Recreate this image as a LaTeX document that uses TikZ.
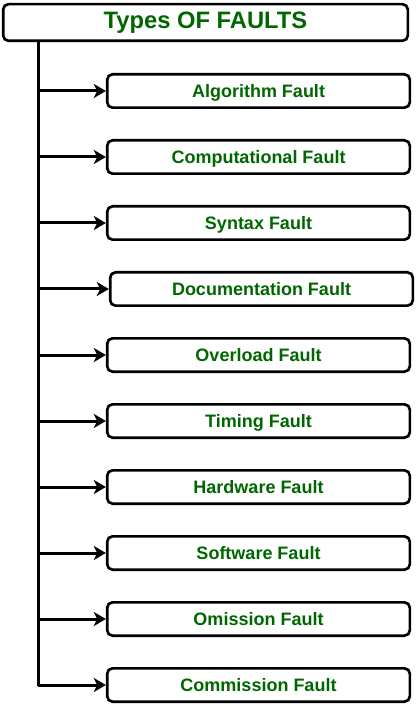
\documentclass[tikz,border=0pt]{standalone}
\usepackage{fontspec}
\setmainfont{Liberation Sans}
\usetikzlibrary{arrows.meta}
\definecolor{faultgreen}{HTML}{006600}
\tikzset{
  faultbox/.style = {draw, line width=2pt, rounded corners=4pt, fill=white,
    minimum width=227pt, minimum height=25pt, inner sep=0pt,
    text height=9.67pt, text depth=0pt,
    text=faultgreen, font=\fontsize{13.5}{16}\selectfont\bfseries},
  feed/.style = {line width=2.25pt, -{Stealth[length=9pt,width=10.5pt,inset=2.5pt]}}
}

\begin{document}
\begin{tikzpicture}[x=0.75pt,y=-0.75pt]
\useasboundingbox (0,0) rectangle (416,705);
% heading
\node[faultbox, minimum width=303.5pt, minimum height=27.5pt, text height=12.74pt, text depth=3.8pt,
  font=\fontsize{17.8}{21}\selectfont\bfseries] (title) at (205.5,22.5) {Types OF FAULTS};
% trunk
\coordinate (trunk) at (38,686);
\draw[line width=2.25pt] (title.south -| trunk) -- (trunk);
% kinds of faults
\foreach \y/\dx/\nm/\txt in {91/0/alg/Algorithm Fault, 157/0/comp/Computational Fault,
  223/0/syn/Syntax Fault, 289/3/doc/Documentation Fault, 355/0/over/Overload Fault,
  421/0/tim/Timing Fault, 487/0/hard/Hardware Fault, 553/0/soft/Software Fault,
  619/0/omi/Omission Fault, 685/0/com/Commission Fault} {
  \node[faultbox] (\nm) at (258.5+\dx,\y) {\txt};
  \draw[feed] (\nm.west -| trunk) -- (\nm.west);
}
\end{tikzpicture}
\end{document}
